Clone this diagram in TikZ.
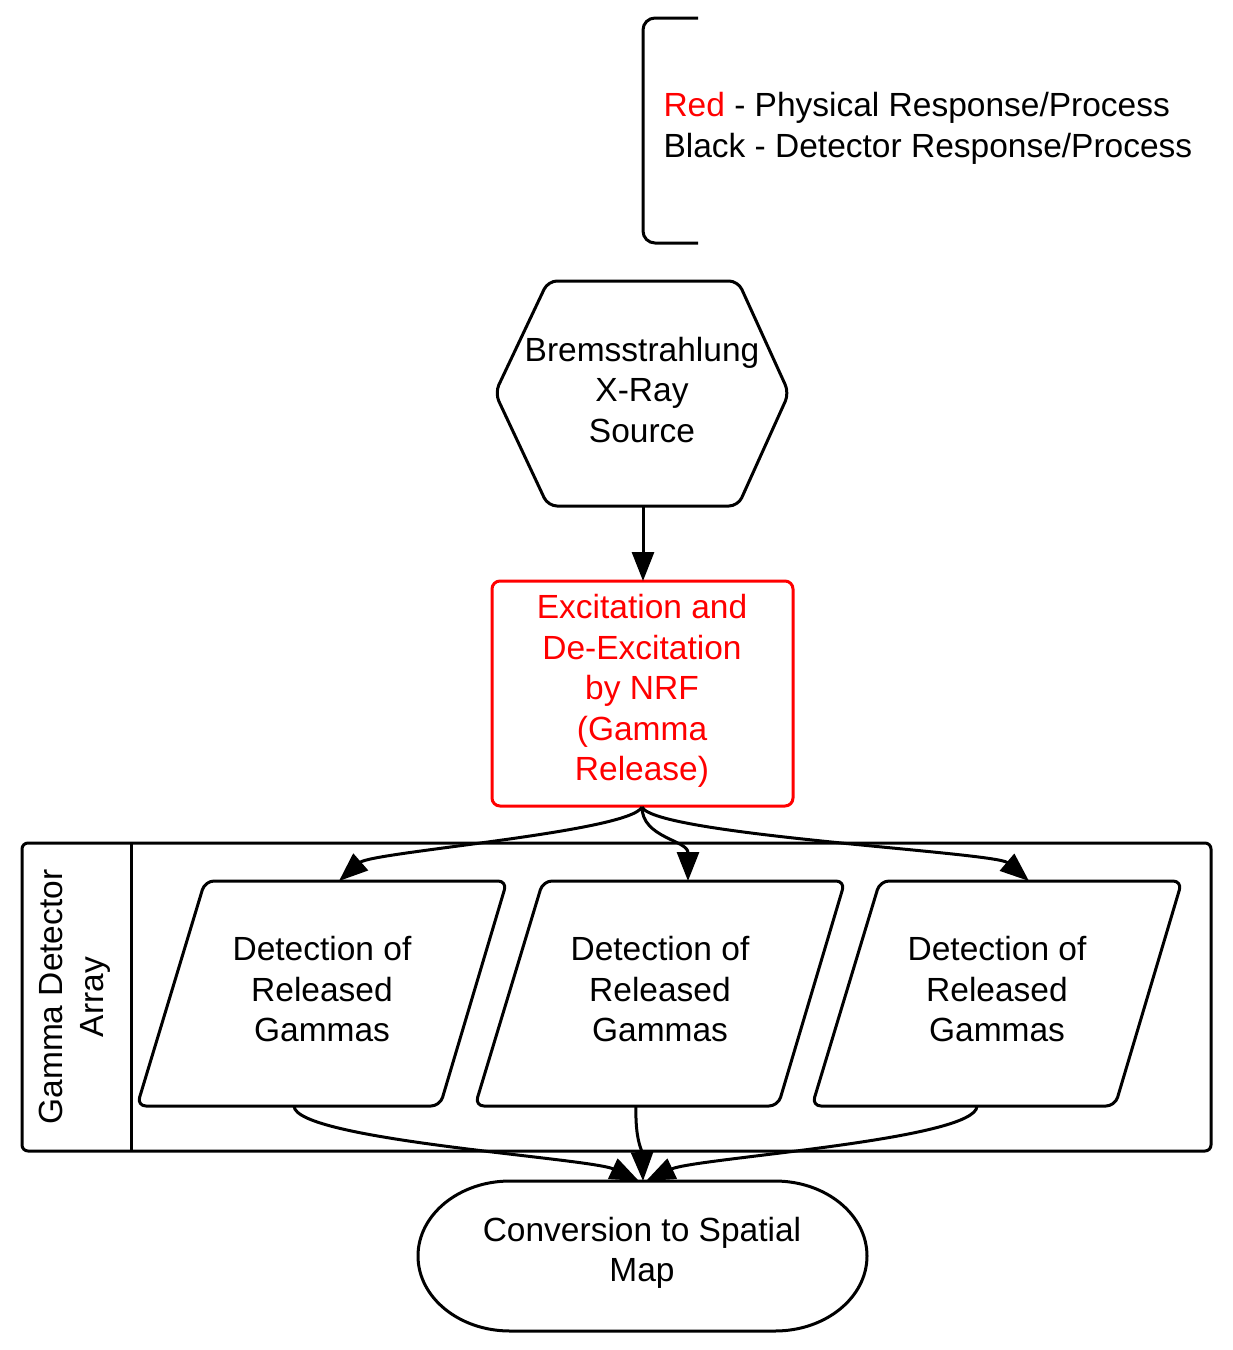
\documentclass[tikz,border=0pt]{standalone}
\usepackage{fontspec}
\setmainfont{Liberation Sans}
\usetikzlibrary{arrows.meta}
\definecolor{nrfred}{RGB}{255,0,0}
\begin{document}
\begin{tikzpicture}[x=1pt,y=1pt, line width=3pt,
  txt/.style={font=\fontsize{33.5}{40.5}\selectfont, align=center, inner sep=0pt},
  arr/.style={-{Triangle[length=29pt,width=22pt]}, line width=3pt},
  shp/.style={draw, line width=3pt, rounded corners=9pt, line join=round}]
\useasboundingbox (0,0) rectangle (1233,-1350);

% legend bracket
\draw[line width=3pt, rounded corners=12pt] (698,-18) -- (643,-18) -- (643,-243) -- (698,-243);
\node[txt, align=left, anchor=west] (legend) at (662,-128.5)
  {\textcolor{nrfred}{Red} - Physical Response/Process\\Black - Detector Response/Process};

% hexagon source
\draw[shp] (643,-281) -- (738,-281) -- (789,-393) -- (738,-506) -- (548,-506) -- (495,-393) -- (548,-281) -- cycle;
\node[txt] (src) at (642,-390) {Bremsstrahlung\\X-Ray\\Source};
\coordinate (srcb) at (643,-506);

% red box
\draw[shp, nrfred, rounded corners=8pt] (492,-581) rectangle (793,-806);
\node[txt, text=nrfred] (nrf) at (642,-691) {Excitation and\\De-Excitation\\by NRF\\(Gamma\\Release)};
\coordinate (nrft) at (643,-581);
\coordinate (nrfb) at (642,-807);

% container
\draw[line width=3pt, rounded corners=6pt] (22,-843) rectangle (1211,-1151);
\draw[line width=3pt] (131,-843) -- (131,-1151);
\node[txt, rotate=90] (arraylbl) at (75,-997) {Gamma Detector\\Array};

% parallelograms
\foreach \dx/\n in {0/a,338/b,675/c}{
  \draw[shp] (356+\dx,-881) -- (507+\dx,-881) -- (440+\dx,-1106) -- (137+\dx,-1106) -- (205+\dx,-881) -- cycle;
  \node[txt] (det\n) at (322+\dx,-989.5) {Detection of\\Released\\Gammas};
}
\coordinate (deta-t) at (339,-881);
\coordinate (detb-t) at (688,-881);
\coordinate (detc-t) at (1029,-881);
\coordinate (deta-b) at (294,-1106);
\coordinate (detb-b) at (636,-1106);
\coordinate (detc-b) at (977,-1106);

% stadium
\draw[line width=3pt] (510,-1181) -- (775,-1181) arc[start angle=90,end angle=-90,x radius=92,y radius=75]
  -- (510,-1331) arc[start angle=270,end angle=90,x radius=92,y radius=75] -- cycle;
\node[txt] (map) at (642,-1253) {Conversion to Spatial\\Map};
\coordinate (mapt1) at (639,-1181);
\coordinate (mapt2) at (643,-1181);
\coordinate (mapt3) at (646,-1181);

% connectors
\draw[arr] (srcb) -- (nrft);
\draw[arr] (nrfb) .. controls (630,-832) and (372,-852) .. (deta-t);
\draw[arr] (nrfb) .. controls (642,-838) and (688,-840) .. (detb-t);
\draw[arr] (nrfb) .. controls (655,-835) and (995,-852) .. (detc-t);
\draw[arr] (deta-b) .. controls (295,-1140) and (590,-1158) .. (mapt1);
\draw[arr] (detb-b) .. controls (635,-1140) and (642,-1150) .. (mapt2);
\draw[arr] (detc-b) .. controls (977,-1140) and (695,-1158) .. (mapt3);
\end{tikzpicture}
\end{document}
